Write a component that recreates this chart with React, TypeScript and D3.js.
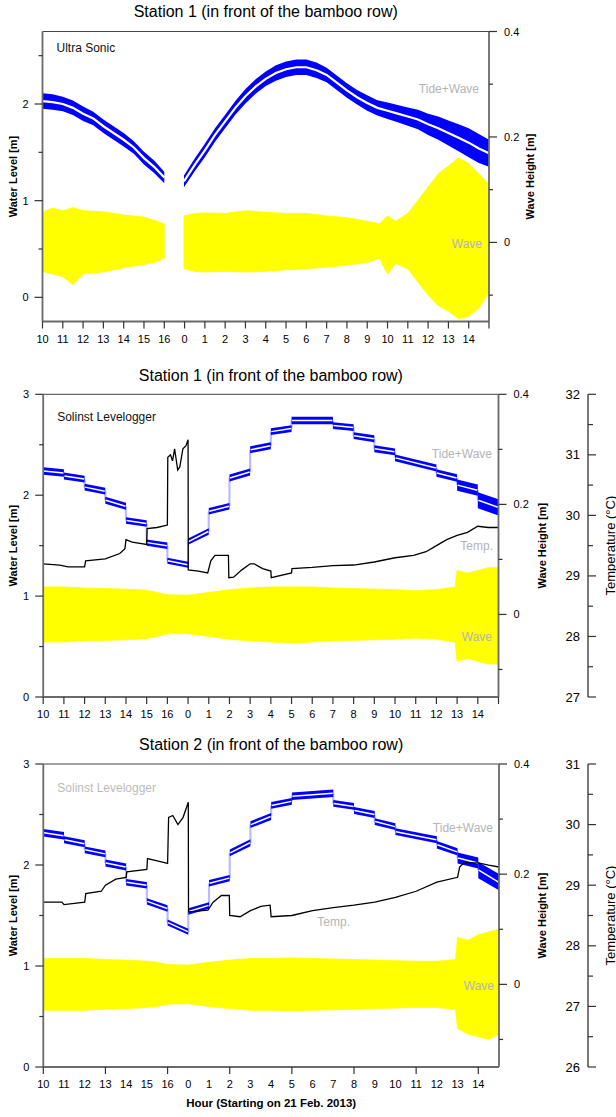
import React from "react";
import * as d3 from "d3";

const FONT = "'Liberation Sans', Arial, Helvetica, sans-serif";

// ---------------- shared axis data ----------------
const HOUR_LABELS = ["10","11","12","13","14","15","16","0","1","2","3","4","5","6","7","8","9","10","11","12","13","14"];
const X_DOMAIN: [number, number] = [0, 22];
const W_DOMAIN: [number, number] = [-0.15, 0.4];
const W_MAJOR = [0, 0.2, 0.4];
const W_MINOR = [-0.1, 0.1, 0.3];

// ---------------- Panel 1 : Station 1, Ultra Sonic ----------------
const US_TIDE_X = [0,0.5,1,1.5,2,2.5,3,3.5,4,4.5,5,5.5,6, 6.5, 6.97,7.5,8,8.5,9,9.5,10,10.5,11,11.5,12,12.5,13,13.5,14,14.5,15,15.5,16,16.5,17,17.5,18,18.5,19,19.5,20,20.5,21,21.5,22];
const US_TIDE_V = [2.03,2.02,2.0,1.96,1.9,1.85,1.77,1.7,1.63,1.55,1.44,1.35,1.24, NaN,
  1.20,1.37,1.52,1.68,1.82,1.96,2.08,2.18,2.26,2.32,2.36,2.38,2.38,2.35,2.30,2.22,2.14,2.07,2.01,1.96,1.93,1.90,1.87,1.84,1.79,1.75,1.70,1.65,1.60,1.54,1.49];
const US_TIDE_NOISE = [0.08,0.08,0.075,0.075,0.075,0.07,0.07,0.07,0.07,0.065,0.065,0.065,0.06, NaN,
  0.06,0.065,0.07,0.07,0.07,0.07,0.075,0.075,0.075,0.08,0.08,0.08,0.08,0.08,0.075,0.075,0.075,0.075,0.08,0.08,0.085,0.09,0.095,0.1,0.11,0.12,0.13,0.14,0.15,0.15,0.14];
const US_WAVE_X = [0,0.5,1,1.5,2,3,4,5,5.5,6, 6.5, 6.97,7.5,8,9,10,11,12,13,14,15,16,16.6,17,17.4,18,18.5,19,19.5,20,20.5,21,21.5,22];
const US_WAVE_UP = [0.058,0.065,0.06,0.066,0.06,0.058,0.052,0.048,0.042,0.035, NaN,
  0.05,0.055,0.056,0.055,0.06,0.057,0.055,0.055,0.05,0.047,0.04,0.035,0.05,0.04,0.055,0.08,0.105,0.13,0.145,0.16,0.15,0.13,0.11];
const US_WAVE_LO = [-0.055,-0.06,-0.065,-0.08,-0.06,-0.056,-0.048,-0.042,-0.038,-0.03, NaN,
  -0.05,-0.055,-0.056,-0.055,-0.056,-0.055,-0.052,-0.05,-0.047,-0.043,-0.038,-0.03,-0.06,-0.04,-0.05,-0.075,-0.1,-0.12,-0.13,-0.145,-0.14,-0.125,-0.095];

// ---------------- Panel 2 : Station 1, Solinst Levelogger ----------------
const SEG_X0 = [0,1,2,3,4,5,6,7,8,9,10,11,12,14,15,16,17,19,20,21];
const SEG_X1 = [1,2,3,4,5,6,7,8,9,10,11,12,14,15,16,17,19,20,21,22];
const S1_TIDE_V0 = [2.24,2.19,2.08,1.95,1.75,1.53,1.35,1.54,1.84,2.17,2.45,2.63,2.74,2.69,2.59,2.46,2.37,2.22,2.10,1.95];
const S1_TIDE_V1 = [2.22,2.16,2.04,1.89,1.72,1.50,1.31,1.64,1.89,2.23,2.49,2.66,2.74,2.67,2.56,2.43,2.27,2.17,2.05,1.88];
const S1_TIDE_NOISE = [0.037,0.034,0.034,0.034,0.032,0.032,0.03,0.032,0.032,0.034,0.034,0.034,0.037,0.034,0.034,0.034,0.034,0.037,0.055,0.08];
const S1_TEMP_X = [0,0.8,1.2,2.0,2.05,3.0,3.7,3.95,4.0,4.3,5.0,5.02,5.5,6.0,6.02,6.15,6.25,6.35,6.5,6.6,6.75,6.9,7.0,7.01,7.5,7.95,8.1,8.3,8.95,8.97,9.2,9.6,10.0,10.2,10.6,11.0,11.02,12.0,12.02,13,14,15,16,17,17.9,18.5,19,19.5,20,20.5,21,21.5,22];
const S1_TEMP_V = [29.2,29.18,29.15,29.15,29.25,29.28,29.37,29.45,29.6,29.56,29.52,29.78,29.8,29.84,30.96,31.0,30.9,31.1,30.75,30.8,31.1,31.15,31.25,29.1,29.08,29.05,29.25,29.34,29.34,28.97,28.98,29.1,29.2,29.2,29.12,29.08,28.97,29.05,29.12,29.14,29.17,29.18,29.23,29.3,29.34,29.4,29.5,29.6,29.67,29.72,29.82,29.8,29.8];
const WAVE_X = [0,1,2,3,4,5,5.5,6,7,8,9,10,11,12,13,14,15,16,17,18,19,19.9,20,20.5,21,21.5,22];
const S1_WAVE_UP = [.05,.05,.048,.047,.046,.044,.04,.036,.035,.04,.045,.048,.05,.05,.05,.048,.047,.046,.045,.043,.045,.05,.08,.075,.08,.085,.085];
const S1_WAVE_LO = [-.05,-.05,-.048,-.047,-.046,-.044,-.04,-.035,-.035,-.04,-.045,-.048,-.05,-.052,-.05,-.048,-.047,-.046,-.045,-.043,-.045,-.05,-.085,-.08,-.085,-.09,-.09];

// ---------------- Panel 3 : Station 2 ----------------
const S2_TIDE_V0 = [2.32,2.25,2.15,2.02,1.83,1.64,1.43,1.54,1.82,2.12,2.40,2.59,2.68,2.61,2.54,2.43,2.33,2.20,2.07,1.95];
const S2_TIDE_V1 = [2.29,2.21,2.11,1.98,1.80,1.57,1.34,1.60,1.87,2.22,2.48,2.63,2.71,2.58,2.50,2.38,2.25,2.13,2.02,1.83];
const S2_TIDE_NOISE = [0.037,0.034,0.034,0.034,0.032,0.032,0.03,0.032,0.032,0.034,0.034,0.034,0.037,0.034,0.034,0.034,0.034,0.037,0.055,0.08];
const S2_TEMP_X = [0,0.9,1.0,2.0,2.05,2.8,3.0,3.5,4.0,4.03,5.0,5.03,5.5,6.0,6.02,6.05,6.25,6.5,6.75,7.0,7.01,7.95,8.2,8.6,8.98,9.0,9.5,10.0,10.5,10.95,11.0,12,13,14,15,16,17,18,19,20,20.1,20.3,21,21.5,22];
const S2_TEMP_V = [28.72,28.72,28.68,28.72,28.86,28.9,29.0,29.1,29.13,29.22,29.26,29.44,29.4,29.36,29.66,30.12,30.15,30.0,30.12,30.37,28.56,28.59,28.72,28.83,28.83,28.5,28.48,28.58,28.65,28.67,28.48,28.5,28.58,28.63,28.67,28.72,28.8,28.9,29.05,29.13,29.3,29.37,29.37,29.33,29.3];
const S2_WAVE_UP = [.047,.047,.047,.045,.044,.042,.04,.036,.035,.04,.044,.047,.047,.048,.047,.046,.045,.044,.043,.042,.042,.045,.085,.08,.09,.095,.1];
const S2_WAVE_LO = [-.047,-.047,-.047,-.045,-.044,-.042,-.04,-.036,-.035,-.04,-.044,-.047,-.047,-.048,-.047,-.046,-.045,-.044,-.043,-.042,-.042,-.045,-.08,-.09,-.095,-.1,-.09];

// ---------------- layout ----------------
type Geo = {
  id: string;
  left: number; right: number; top: number; bottom: number;
  yDomain: [number, number]; yMajor: number[]; yMinor: number[];
  tDomain?: [number, number]; tMajor?: number[]; tMinor?: number[];
  xTickStep: number;
  title: string; titleY: number;
  sensor: string; sensorY: number; sensorFaint?: boolean;
  waveTitleX: number;
  notes: { text: string; x: number; y: number }[];
};

const AX = "#6a6a6a";
const TEMP_AXIS_X = 588;

function Frame({ g, children, xTitle }: { g: Geo; children?: React.ReactNode; xTitle?: string }) {
  const x = d3.scaleLinear().domain(X_DOMAIN).range([g.left, g.right]);
  const y = d3.scaleLinear().domain(g.yDomain).range([g.bottom, g.top]);
  const w = d3.scaleLinear().domain(W_DOMAIN).range([g.bottom, g.top]);
  const mid = (g.top + g.bottom) / 2;
  const t = g.tDomain ? d3.scaleLinear().domain(g.tDomain).range([g.bottom, g.top]) : null;
  const ticks = d3.range(0, 23);
  return (
    <g>
      <clipPath id={"clip" + g.id}>
        <rect x={g.left} y={g.top} width={g.right - g.left} height={g.bottom - g.top} />
      </clipPath>
      <g clipPath={`url(#clip${g.id})`}>{children}</g>
      {/* frame */}
      <line x1={g.left} x2={g.right} y1={g.top} y2={g.top} stroke="#444" strokeWidth={1} />
      <line x1={g.left} x2={g.left} y1={g.top} y2={g.bottom} stroke={AX} strokeWidth={1.8} />
      <line x1={g.right} x2={g.right} y1={g.top} y2={g.bottom} stroke={AX} strokeWidth={1.8} />
      <line x1={g.left} x2={g.right} y1={g.bottom} y2={g.bottom} stroke={AX} strokeWidth={1.8} />
      {/* left axis */}
      {g.yMajor.map((v) => (
        <g key={"ym" + v}>
          <line x1={g.left - 8} x2={g.left} y1={y(v)} y2={y(v)} stroke="#333" strokeWidth={1.2} />
          <text x={g.left - 14} y={y(v)} textAnchor="end" dominantBaseline="central" fontSize={11}>{v}</text>
        </g>
      ))}
      {g.yMinor.map((v) => (
        <line key={"yn" + v} x1={g.left - 4} x2={g.left} y1={y(v)} y2={y(v)} stroke="#333" strokeWidth={1.2} />
      ))}
      <text transform={`translate(13,${mid}) rotate(-90)`} textAnchor="middle" dominantBaseline="central" fontSize={11} fontWeight="bold">Water Level [m]</text>
      {/* right wave axis */}
      {W_MAJOR.map((v) => (
        <g key={"wm" + v}>
          <line x1={g.right} x2={g.right + 8} y1={w(v)} y2={w(v)} stroke="#333" strokeWidth={1.2} />
          <text x={g.right + 15} y={w(v)} textAnchor="start" dominantBaseline="central" fontSize={11}>{v}</text>
        </g>
      ))}
      {W_MINOR.map((v) => (
        <line key={"wn" + v} x1={g.right} x2={g.right + 4} y1={w(v)} y2={w(v)} stroke="#333" strokeWidth={1.2} />
      ))}
      <text transform={`translate(${g.waveTitleX},${mid}) rotate(-90)`} textAnchor="middle" dominantBaseline="central" fontSize={11} fontWeight="bold">Wave Height [m]</text>
      {/* temperature axis */}
      {t && g.tMajor && g.tMinor && (
        <g>
          <line x1={TEMP_AXIS_X} x2={TEMP_AXIS_X} y1={g.top} y2={g.bottom} stroke={AX} strokeWidth={1.8} />
          {g.tMajor.map((v) => (
            <g key={"tm" + v}>
              <line x1={TEMP_AXIS_X} x2={TEMP_AXIS_X + 8} y1={t(v)} y2={t(v)} stroke="#333" strokeWidth={1.2} />
              <text x={TEMP_AXIS_X - 8} y={t(v)} textAnchor="end" dominantBaseline="central" fontSize={13}>{v}</text>
            </g>
          ))}
          {g.tMinor.map((v) => (
            <line key={"tn" + v} x1={TEMP_AXIS_X} x2={TEMP_AXIS_X + 5} y1={t(v)} y2={t(v)} stroke="#333" strokeWidth={1.2} />
          ))}
          <text transform={`translate(610,${mid}) rotate(-90)`} textAnchor="middle" dominantBaseline="central" fontSize={13}>Temperature (°C)</text>
        </g>
      )}
      {/* x axis */}
      {ticks.filter((i) => i % g.xTickStep === 0).map((i) => (
        <line key={"xt" + i} x1={x(i)} x2={x(i)} y1={g.bottom} y2={g.bottom + 7} stroke="#333" strokeWidth={1.2} />
      ))}
      {HOUR_LABELS.map((lab, i) => (
        <text key={"xl" + i} x={x(i)} y={g.bottom + 21} textAnchor="middle" fontSize={11}>{lab}</text>
      ))}
      {xTitle && (
        <text x={(g.left + g.right) / 2} y={g.bottom + 40} textAnchor="middle" fontSize={11.5} fontWeight="bold">{xTitle}</text>
      )}
      {/* titles */}
      <text x={(g.left + g.right) / 2} y={g.titleY} textAnchor="middle" fontSize={16}>{g.title}</text>
      <text x={g.left + 14} y={g.sensorY} fontSize={12} fill={g.sensorFaint ? "#000" : "#111"} opacity={g.sensorFaint ? 0.28 : 1}>{g.sensor}</text>
      {g.notes.map((n) => (
        <text key={n.text} x={n.x} y={n.y} textAnchor="end" fontSize={12} fill="#b4b4b4">{n.text}</text>
      ))}
    </g>
  );
}

const G1: Geo = {
  id: "1", left: 42.5, right: 489, top: 31.5, bottom: 321.5,
  yDomain: [-0.25, 2.75], yMajor: [0, 1, 2], yMinor: [0.5, 1.5, 2.5],
  xTickStep: 1, title: "Station 1 (in front of the bamboo row)", titleY: 17,
  sensor: "Ultra Sonic", sensorY: 52, waveTitleX: 530,
  notes: [{ text: "Tide+Wave", x: 479, y: 93 }, { text: "Wave", x: 482, y: 248 }],
};
const G2: Geo = {
  id: "2", left: 43.2, right: 498.5, top: 394.3, bottom: 697,
  yDomain: [0, 3], yMajor: [0, 1, 2, 3], yMinor: [0.5, 1.5, 2.5],
  tDomain: [27, 32], tMajor: [27, 28, 29, 30, 31, 32], tMinor: [27.5, 28.5, 29.5, 30.5, 31.5],
  xTickStep: 1, title: "Station 1 (in front of the bamboo row)", titleY: 381,
  sensor: "Solinst Levelogger", sensorY: 421, waveTitleX: 541.5,
  notes: [{ text: "Tide+Wave", x: 492, y: 458 }, { text: "Temp.", x: 493, y: 550 }, { text: "Wave", x: 492, y: 641 }],
};
const G3: Geo = {
  id: "3", left: 43.3, right: 499, top: 764, bottom: 1067,
  yDomain: [0, 3], yMajor: [0, 1, 2, 3], yMinor: [0.5, 1.5, 2.5],
  tDomain: [26, 31], tMajor: [26, 27, 28, 29, 30, 31], tMinor: [26.5, 27.5, 28.5, 29.5, 30.5],
  xTickStep: 3, title: "Station 2 (in front of the bamboo row)", titleY: 750,
  sensor: "Solinst Levelogger", sensorY: 792, sensorFaint: true, waveTitleX: 541.5,
  notes: [{ text: "Tide+Wave", x: 493, y: 832 }, { text: "Temp.", x: 350, y: 926 }, { text: "Wave", x: 494, y: 990 }],
};

const BLUE = "#0000ff";
const YELLOW = "#ffff00";

function WaveArea({ g, xs, up, lo }: { g: Geo; xs: number[]; up: number[]; lo: number[] }) {
  const x = d3.scaleLinear().domain(X_DOMAIN).range([g.left, g.right]);
  const w = d3.scaleLinear().domain(W_DOMAIN).range([g.bottom, g.top]);
  const idx = xs.map((_, i) => i);
  const area = d3.area<number>()
    .defined((i) => !isNaN(up[i]))
    .x((i) => x(xs[i]))
    .y0((i) => w(lo[i]))
    .y1((i) => w(up[i]));
  return <path d={area(idx) || ""} fill={YELLOW} stroke={YELLOW} strokeWidth={0.8} />;
}

function TempLine({ g, xs, vs }: { g: Geo; xs: number[]; vs: number[] }) {
  const x = d3.scaleLinear().domain(X_DOMAIN).range([g.left, g.right]);
  const t = d3.scaleLinear().domain(g.tDomain as [number, number]).range([g.bottom, g.top]);
  const line = d3.line<number>().x((i) => x(xs[i])).y((i) => t(vs[i]));
  return <path d={line(xs.map((_, i) => i)) || ""} fill="none" stroke="#000" strokeWidth={1.3} />;
}

function StepTide({ g, v0, v1, n }: { g: Geo; v0: number[]; v1: number[]; n: number[] }) {
  const x = d3.scaleLinear().domain(X_DOMAIN).range([g.left, g.right]);
  const y = d3.scaleLinear().domain(g.yDomain).range([g.bottom, g.top]);
  return (
    <g>
      {SEG_X0.slice(1).map((_, k) => (
        <line key={"c" + k} x1={x(SEG_X1[k])} x2={x(SEG_X0[k + 1])} y1={y(v1[k])} y2={y(v0[k + 1])} stroke="#b9bcff" strokeWidth={2.2} />
      ))}
      {SEG_X0.map((x0, k) => {
        const x1 = SEG_X1[k];
        const pts = [
          [x(x0), y(v0[k] + n[k])], [x(x1), y(v1[k] + n[k])],
          [x(x1), y(v1[k] - n[k])], [x(x0), y(v0[k] - n[k])],
        ];
        return <polygon key={"s" + k} points={pts.map((p) => p.join(",")).join(" ")} fill={BLUE} />;
      })}
      {SEG_X0.map((x0, k) => (
        <line key={"w" + k} x1={x(x0) + 0.5} x2={x(SEG_X1[k]) - 0.5} y1={y(v0[k])} y2={y(v1[k])} stroke="#fff" strokeWidth={1.5} />
      ))}
    </g>
  );
}

function SonicTide({ g }: { g: Geo }) {
  const x = d3.scaleLinear().domain(X_DOMAIN).range([g.left, g.right]);
  const y = d3.scaleLinear().domain(g.yDomain).range([g.bottom, g.top]);
  const idx = US_TIDE_X.map((_, i) => i);
  const area = d3.area<number>()
    .defined((i) => !isNaN(US_TIDE_V[i]))
    .x((i) => x(US_TIDE_X[i]))
    .y0((i) => y(US_TIDE_V[i] - US_TIDE_NOISE[i]))
    .y1((i) => y(US_TIDE_V[i] + US_TIDE_NOISE[i]));
  const line = d3.line<number>()
    .defined((i) => !isNaN(US_TIDE_V[i]))
    .x((i) => x(US_TIDE_X[i]))
    .y((i) => y(US_TIDE_V[i]));
  return (
    <g>
      <path d={area(idx) || ""} fill={BLUE} />
      <path d={line(idx) || ""} fill="none" stroke="#fff" strokeWidth={2.2} />
    </g>
  );
}

export default function App() {
  return (
    <svg width={616} height={1117} fontFamily={FONT} style={{ position: "absolute", left: 0, top: 0, background: "#fff" }}>
      <rect x={0} y={0} width={616} height={1117} fill="#fff" />
      <Frame g={G1}>
        <SonicTide g={G1} />
        <WaveArea g={G1} xs={US_WAVE_X} up={US_WAVE_UP} lo={US_WAVE_LO} />
      </Frame>
      <Frame g={G2}>
        <StepTide g={G2} v0={S1_TIDE_V0} v1={S1_TIDE_V1} n={S1_TIDE_NOISE} />
        <TempLine g={G2} xs={S1_TEMP_X} vs={S1_TEMP_V} />
        <WaveArea g={G2} xs={WAVE_X} up={S1_WAVE_UP} lo={S1_WAVE_LO} />
      </Frame>
      <Frame g={G3} xTitle="Hour (Starting on 21 Feb. 2013)">
        <StepTide g={G3} v0={S2_TIDE_V0} v1={S2_TIDE_V1} n={S2_TIDE_NOISE} />
        <TempLine g={G3} xs={S2_TEMP_X} vs={S2_TEMP_V} />
        <WaveArea g={G3} xs={WAVE_X} up={S2_WAVE_UP} lo={S2_WAVE_LO} />
      </Frame>
    </svg>
  );
}
